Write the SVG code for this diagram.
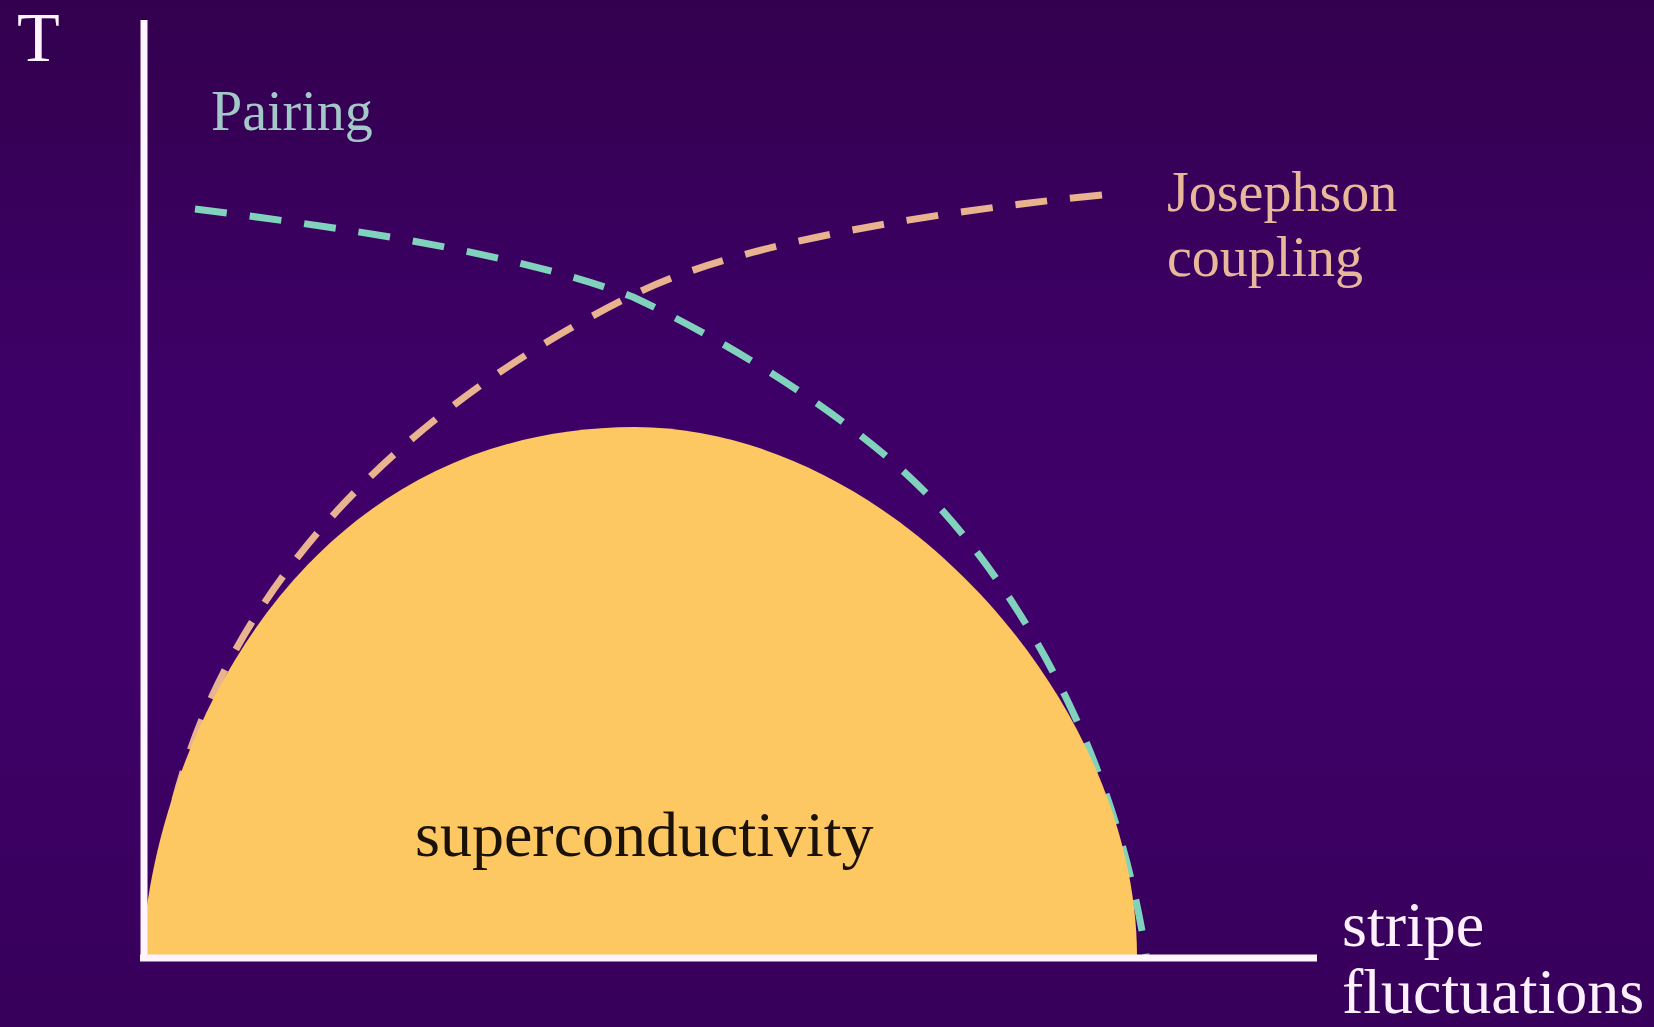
<svg xmlns="http://www.w3.org/2000/svg" width="1654" height="1027" viewBox="0 0 1654 1027">
  <defs>
    <linearGradient id="bg" x1="0" y1="0" x2="0" y2="1">
      <stop offset="0" stop-color="#33004e"/>
      <stop offset="0.35" stop-color="#3d0066"/>
      <stop offset="0.6" stop-color="#40006a"/>
      <stop offset="1" stop-color="#37005a"/>
    </linearGradient>
  </defs>
  <style>
    .lbl { font-family: "Liberation Serif", "Times New Roman", serif; }
    .dash { fill: none; stroke-width: 7; stroke-dasharray: 32 23; }
    .axis { stroke: #fff4ff; stroke-width: 7; fill: none; }
  </style>
  <rect width="1654" height="1027" fill="url(#bg)"/>
  <g id="connectors">
    <path id="josephson-curve" class="dash" stroke="#e8b38e" d="M1102,195 C900,215 720,250 633,295 C420,400 235,570 175,800"/>
    <path id="pairing-curve" class="dash" stroke="#80d2bd" d="M195,209 C380,232 530,258 633,297 C733,344 852,419 922,489 C992,559 1110,720 1146,955"/>
  </g>
  <g id="superconductivity">
    <path d="M142,958 C151,760 290,428 635,427 C895,428 1138,705 1137,958 Z" fill="#fdc862"/>
    <text class="lbl" x="415" y="856" font-size="64" fill="#1a1208">superconductivity</text>
  </g>
  <g id="axes">
    <line class="axis" x1="144" y1="20" x2="144" y2="961"/>
    <line class="axis" x1="140" y1="958" x2="1317" y2="958"/>
  </g>
  <g id="label-T">
    <text class="lbl" x="17" y="61" font-size="70" fill="#fff4ff">T</text>
  </g>
  <g id="label-pairing">
    <text class="lbl" x="211" y="130" font-size="56" fill="#a3c8c8">Pairing</text>
  </g>
  <g id="label-josephson">
    <text class="lbl" x="1167" y="211" font-size="56" fill="#e8b89a">Josephson</text>
    <text class="lbl" x="1167" y="276" font-size="56" fill="#e8b89a">coupling</text>
  </g>
  <g id="label-stripe">
    <text class="lbl" x="1342" y="946" font-size="64" fill="#fff0ff">stripe</text>
    <text class="lbl" x="1342" y="1013" font-size="64" fill="#fff0ff">fluctuations</text>
  </g>
</svg>
